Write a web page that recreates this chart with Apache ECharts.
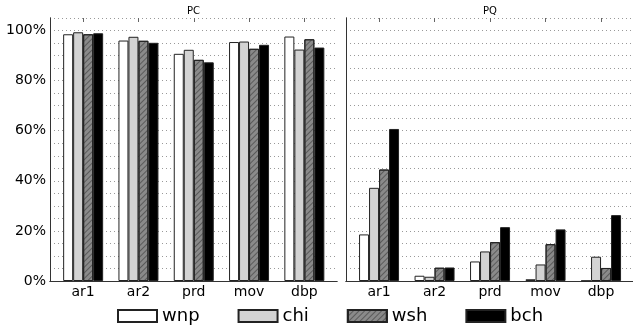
<!DOCTYPE html>
<html>
<head>
<meta charset="utf-8">
<script src="https://cdn.jsdelivr.net/npm/echarts@6/dist/echarts.min.js"></script>
<style>
  html, body { margin: 0; padding: 0; background: #fff; }
  #chart { width: 633px; height: 327px; }
</style>
</head>
<body>
<div id="chart"></div>
<script>
// categories and series
const categories = ['ar1', 'ar2', 'prd', 'mov', 'dbp'];
const seriesNames = ['wnp', 'chi', 'wsh', 'bch'];
const panelTitles = ['PC', 'PQ'];

// PC panel values (%)
const pcWnp = [98.5, 96.0, 90.7, 95.4, 97.6];
const pcChi = [99.3, 97.5, 92.3, 95.6, 92.4];
const pcWsh = [98.5, 95.9, 88.3, 92.7, 96.5];
const pcBch = [98.9, 95.1, 87.3, 94.3, 93.2];

// PQ panel values (%)
const pqWnp = [18.6, 2.1, 7.8, 0.7, 0.1];
const pqChi = [37.2, 1.7, 11.8, 6.6, 9.7];
const pqWsh = [44.5, 5.3, 15.5, 14.7, 5.2];
const pqBch = [60.7, 5.4, 21.5, 20.6, 26.3];

const chart = echarts.init(document.getElementById('chart'), null, { renderer: 'canvas' });

const FONT = 'DejaVu Sans';
const frameColor = '#333';

// bar styles
const styles = {
  wnp: { color: '#ffffff' },
  chi: { color: '#d3d3d3' },
  wsh: {
    color: '#8a8a8a',
    decal: {
      symbol: 'rect',
      symbolSize: 1,
      color: 'rgba(70,70,70,0.7)',
      dashArrayX: [1, 0],
      dashArrayY: [1, 3],
      rotation: -Math.PI / 4
    }
  },
  bch: { color: '#000000' }
};

// frame grids (0, 2) and bar grids (1, 3)
const grids = [
  { left: 50, width: 287, top: 18, height: 263 },
  { left: 55.5, width: 276.5, top: 18, height: 263 },
  { left: 346, width: 288, top: 18, height: 263 },
  { left: 351.3, width: 277.5, top: 18, height: 263 }
];

const yMax = 105;

const xAxes = [];
const yAxes = [];
[0, 2].forEach((g, p) => {
  // frame: bottom + top border
  ['bottom', 'top'].forEach(pos => {
    xAxes.push({
      gridIndex: g, type: 'value', min: 0, max: 1, position: pos,
      axisLine: { show: true, lineStyle: { color: frameColor, width: 1 } },
      axisTick: { show: false }, axisLabel: { show: false }, splitLine: { show: false }
    });
  });
  // frame: left axis with gridlines, right border
  yAxes.push({
    gridIndex: g, type: 'value', min: 0, max: yMax, interval: 5, position: 'left',
    axisLine: { show: true, lineStyle: { color: frameColor, width: 1 } },
    axisTick: { show: false },
    axisLabel: {
      show: p === 0, margin: 4, color: '#000', fontFamily: FONT, fontSize: 14,
      formatter: v => (v % 20 === 0 && v <= 100) ? v + '%' : ''
    },
    splitLine: { show: true, lineStyle: { color: '#999', type: [1, 3], width: 1 } }
  });
  yAxes.push({
    gridIndex: g, type: 'value', min: 0, max: yMax, position: 'right',
    axisLine: { show: true, lineStyle: { color: frameColor, width: 1 } },
    axisTick: { show: false }, axisLabel: { show: false }, splitLine: { show: false }
  });
  // bars grid axes
  xAxes.push({
    gridIndex: g + 1, type: 'category', data: categories, position: 'bottom',
    axisLine: { show: false }, axisTick: { show: false },
    axisLabel: { color: '#000', fontFamily: FONT, fontSize: 14, margin: 4 },
    splitLine: { show: false }
  });
  xAxes.push({
    gridIndex: g + 1, type: 'category', data: categories, position: 'top',
    axisLine: { show: false },
    axisTick: { show: true, inside: true, alignWithLabel: true, length: 4, lineStyle: { color: '#666' } },
    axisLabel: { show: false }, splitLine: { show: false }
  });
  yAxes.push({ gridIndex: g + 1, type: 'value', min: 0, max: yMax, show: false });
});

const panelData = [
  [pcWnp, pcChi, pcWsh, pcBch],
  [pqWnp, pqChi, pqWsh, pqBch]
];

const series = [];
panelData.forEach((arrs, p) => {
  arrs.forEach((vals, i) => {
    const name = seriesNames[i];
    series.push({
      name: name,
      type: 'bar',
      xAxisIndex: p * 4 + 2,
      yAxisIndex: p * 3 + 2,
      data: vals,
      barWidth: 10,
      barGap: '0%',
      itemStyle: Object.assign({ borderColor: '#222', borderWidth: 1 }, styles[name]),
      emphasis: { disabled: true },
      animation: false
    });
  });
});

chart.setOption({
  animation: false,
  title: panelTitles.map((t, p) => ({
    text: t,
    left: p === 0 ? 193.5 : 490,
    top: 6,
    padding: 0,
    textAlign: 'center',
    textStyle: { fontFamily: FONT, fontSize: 10, fontWeight: 'normal', color: '#000' }
  })),
  legend: {
    data: seriesNames,
    left: 117, top: 307,
    icon: 'rect',
    itemWidth: 39, itemHeight: 12, itemGap: 38,
    padding: 0,
    textStyle: { fontFamily: FONT, fontSize: 18, color: '#000', padding: [0, 0, 0, 0] }
  },
  grid: grids,
  xAxis: xAxes,
  yAxis: yAxes,
  series: series
});
</script>
</body>
</html>
